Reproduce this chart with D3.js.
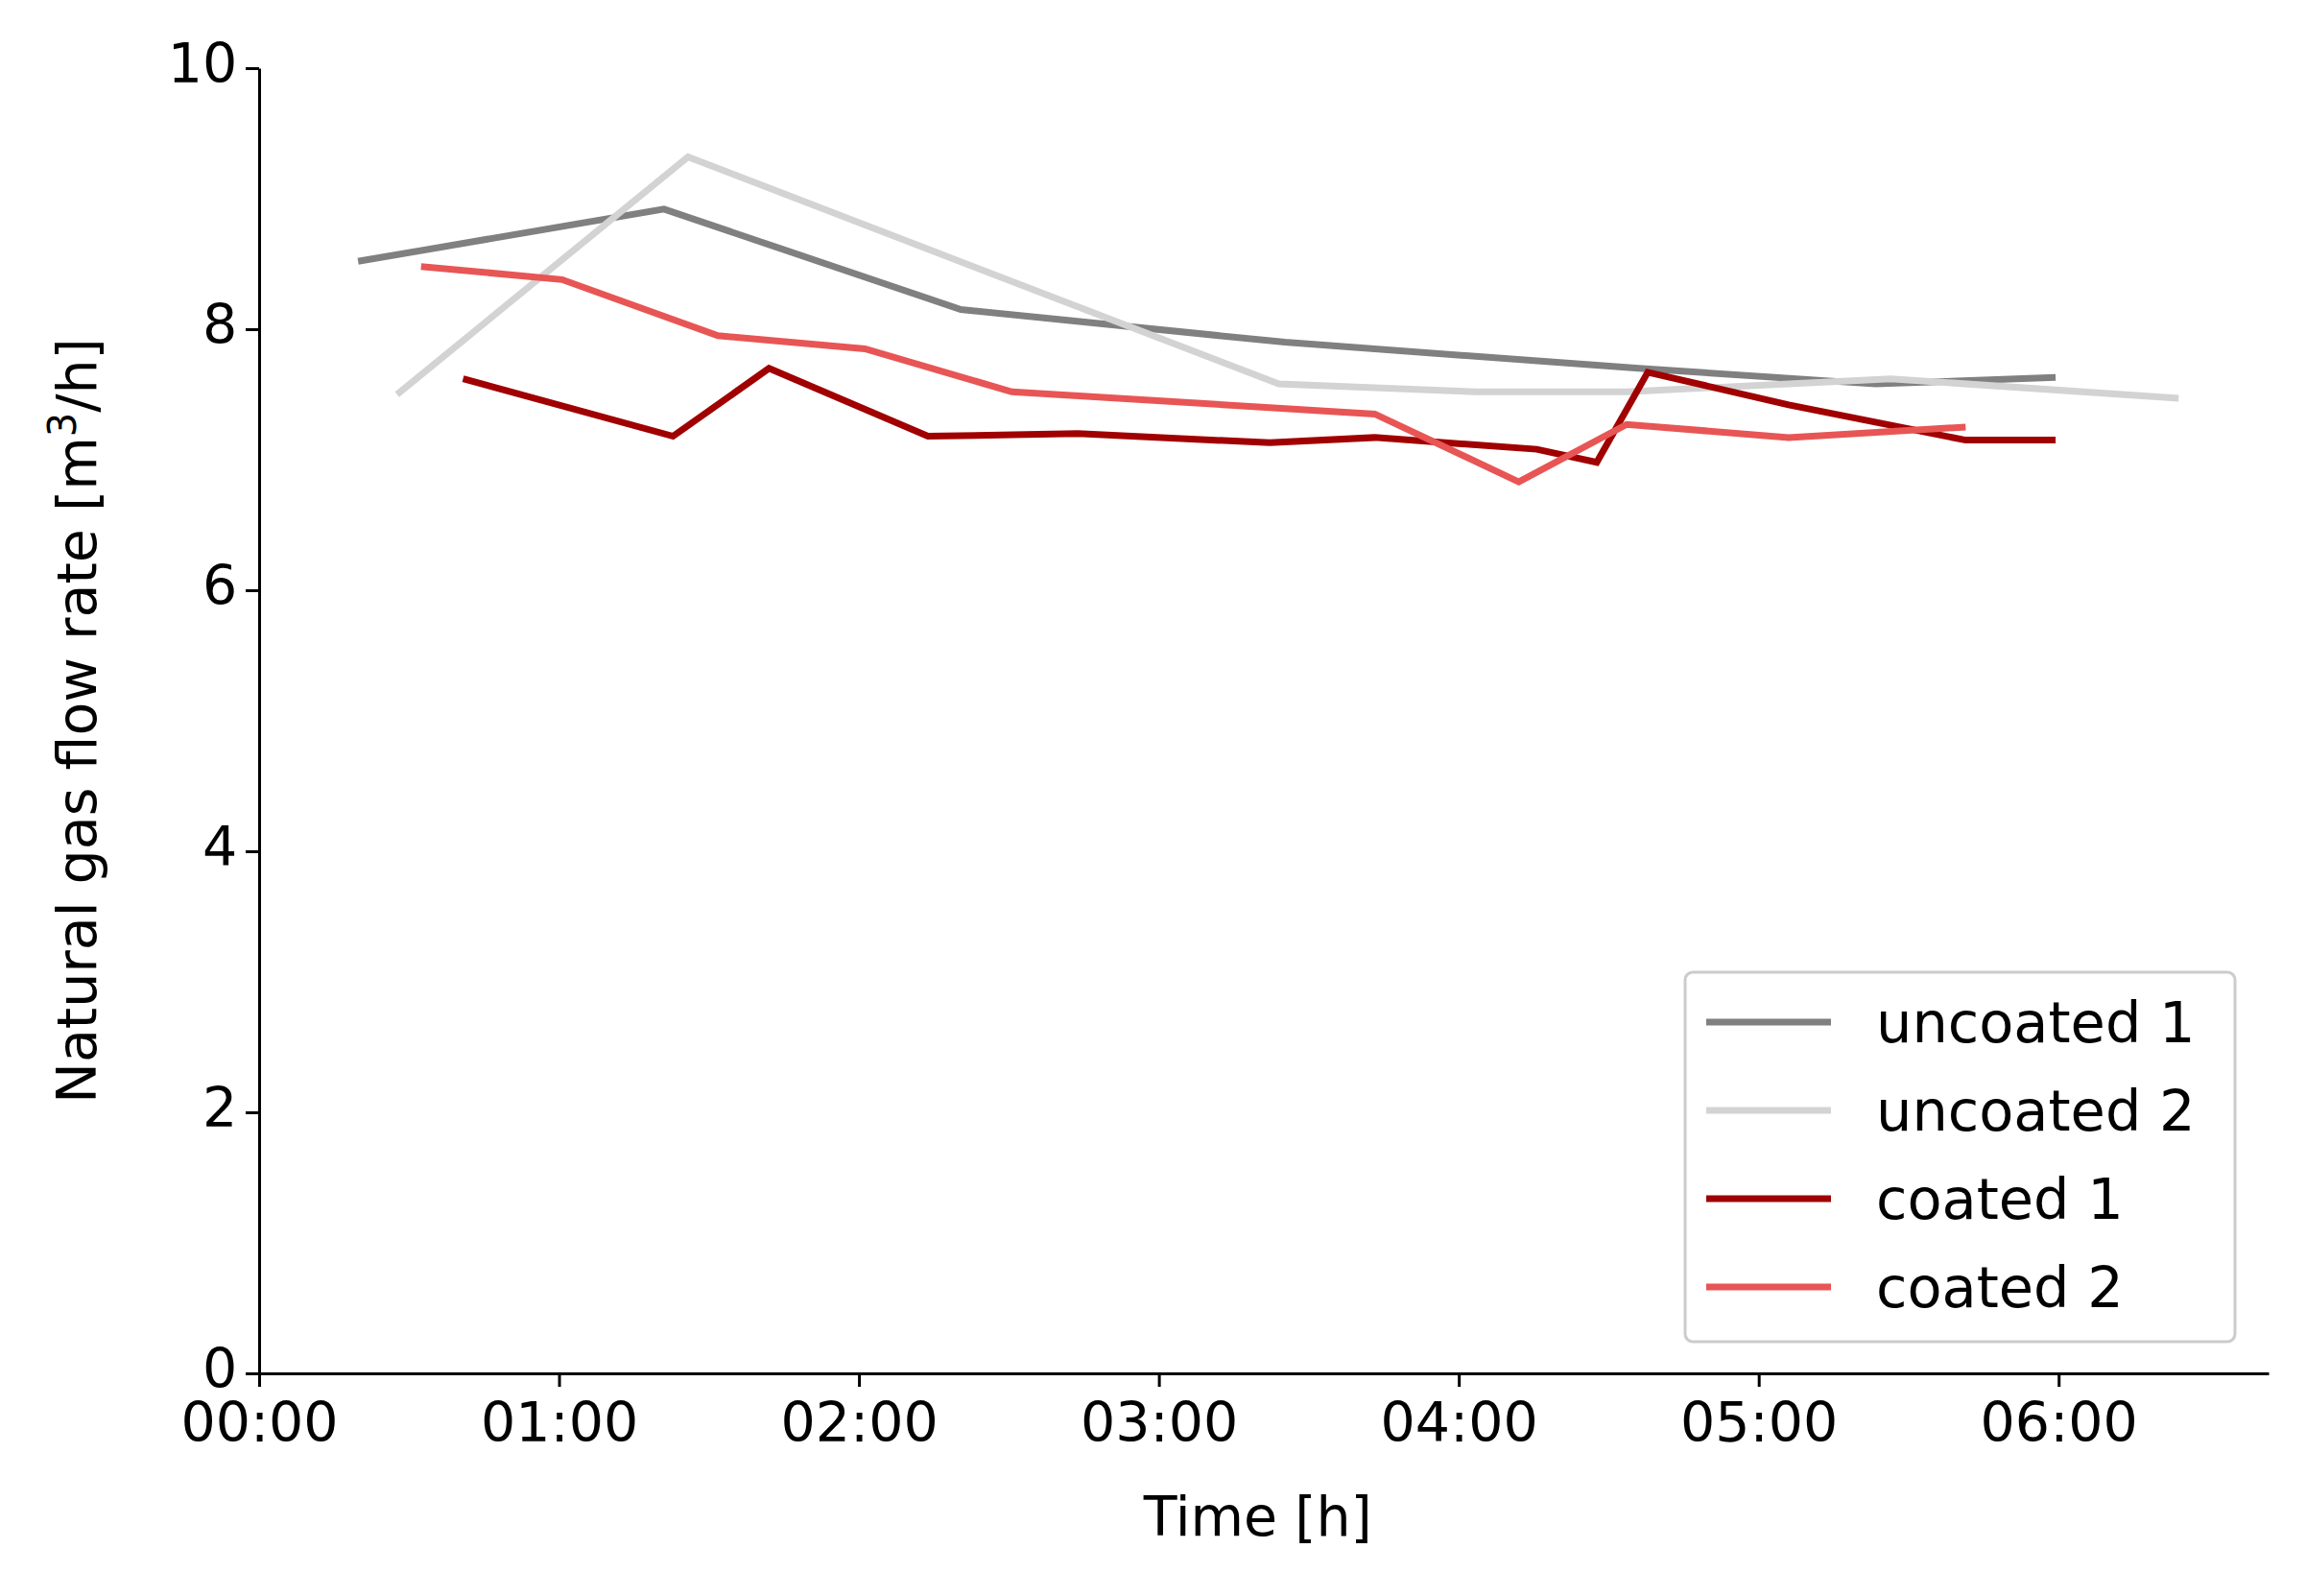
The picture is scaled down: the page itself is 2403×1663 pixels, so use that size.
<!DOCTYPE html>
<html><head><meta charset="utf-8">
<script src="https://cdn.jsdelivr.net/npm/d3@7"></script>
<style>body{margin:0;background:#fff}text{font-family:"DejaVu Sans",sans-serif}</style>
</head><body><svg id="c" width="2403" height="1663"></svg>
<script>
const seriesNames = ["uncoated 1", "uncoated 2", "coated 1", "coated 2"];
const seriesColors = ["#808080", "#d3d3d3", "#a00000", "#e85555"];
// time in hours, flow in m3/h
const unc1T = [0.33, 1.35, 2.34, 3.42, 4.6, 5.39, 5.99];
const unc1V = [8.52, 8.92, 8.15, 7.9, 7.7, 7.58, 7.63];
const unc2T = [0.46, 1.43, 3.40, 4.06, 4.56, 5.44, 6.4];
const unc2V = [7.5, 9.32, 7.58, 7.52, 7.52, 7.62, 7.47];
const coa1T = [0.68, 1.38, 1.70, 2.23, 2.73, 3.37, 3.72, 4.26, 4.46, 4.63, 5.1, 5.69, 5.99];
const coa1V = [7.62, 7.18, 7.7, 7.18, 7.2, 7.13, 7.17, 7.08, 6.98, 7.67, 7.42, 7.15, 7.15];
const coa2T = [0.54, 1.01, 1.53, 2.02, 2.51, 3.72, 4.2, 4.56, 5.1, 5.69];
const coa2V = [8.48, 8.38, 7.95, 7.85, 7.52, 7.35, 6.83, 7.27, 7.17, 7.25];
const xTicks = [0, 1, 2, 3, 4, 5, 6];
const xTickLabels = ["00:00", "01:00", "02:00", "03:00", "04:00", "05:00", "06:00"];
const yTicks = [0, 2, 4, 6, 8, 10];

const series = [[unc1T, unc1V], [unc2T, unc2V], [coa1T, coa1V], [coa2T, coa2V]];
const svg = d3.select("#c");
const x = d3.scaleLinear().domain([0, 6.7]).range([270, 2364]);
const y = d3.scaleLinear().domain([0, 10]).range([1431, 71]);
const fs = 57;

const xa = svg.append("g").attr("transform", "translate(0,1431)")
  .call(d3.axisBottom(x).tickValues(xTicks).tickFormat((d, i) => xTickLabels[i]).tickSize(14).tickSizeOuter(0));
const ya = svg.append("g").attr("transform", "translate(270,0)")
  .call(d3.axisLeft(y).tickValues(yTicks).tickSize(14).tickSizeOuter(0));
[xa, ya].forEach(a => {
  a.selectAll("path,line").attr("stroke", "#000").attr("stroke-width", 3);
  a.selectAll("text").attr("font-size", fs).attr("fill", "#000").attr("font-family", "DejaVu Sans");
});
xa.selectAll("text").attr("dy", "0.95em");
ya.selectAll("text").attr("dx", "-0.1em").attr("dy", "0.25em");

svg.append("text").attr("x", x(3.33)).attr("y", 1600).attr("text-anchor", "middle")
  .attr("font-size", fs).text("Time [h]");
const yl = svg.append("text").attr("transform", `translate(100,${y(5)}) rotate(-90)`)
  .attr("text-anchor", "middle").attr("font-size", fs);
yl.append("tspan").text("Natural gas flow rate [m");
yl.append("tspan").attr("dy", -21).attr("font-size", 40).text("3");
yl.append("tspan").attr("dy", 21).text("/h]");

const line = d3.line().x(d => x(d[0])).y(d => y(d[1]));
series.forEach((s, i) => {
  svg.append("path").datum(s[0].map((t, j) => [t, s[1][j]]))
    .attr("d", line).attr("fill", "none").attr("stroke", seriesColors[i]).attr("stroke-width", 7);
});

const lg = svg.append("g");
lg.append("rect").attr("x", 1756).attr("y", 1013).attr("width", 573).attr("height", 385).attr("rx", 8)
  .attr("fill", "#fff").attr("stroke", "#ccc").attr("stroke-width", 3);
seriesNames.forEach((n, i) => {
  const yy = 1065 + i * 92;
  lg.append("line").attr("x1", 1778).attr("x2", 1908).attr("y1", yy).attr("y2", yy)
    .attr("stroke", seriesColors[i]).attr("stroke-width", 7);
  lg.append("text").attr("x", 1955).attr("y", yy + 21).attr("font-size", 59).text(n);
});
</script></body></html>
